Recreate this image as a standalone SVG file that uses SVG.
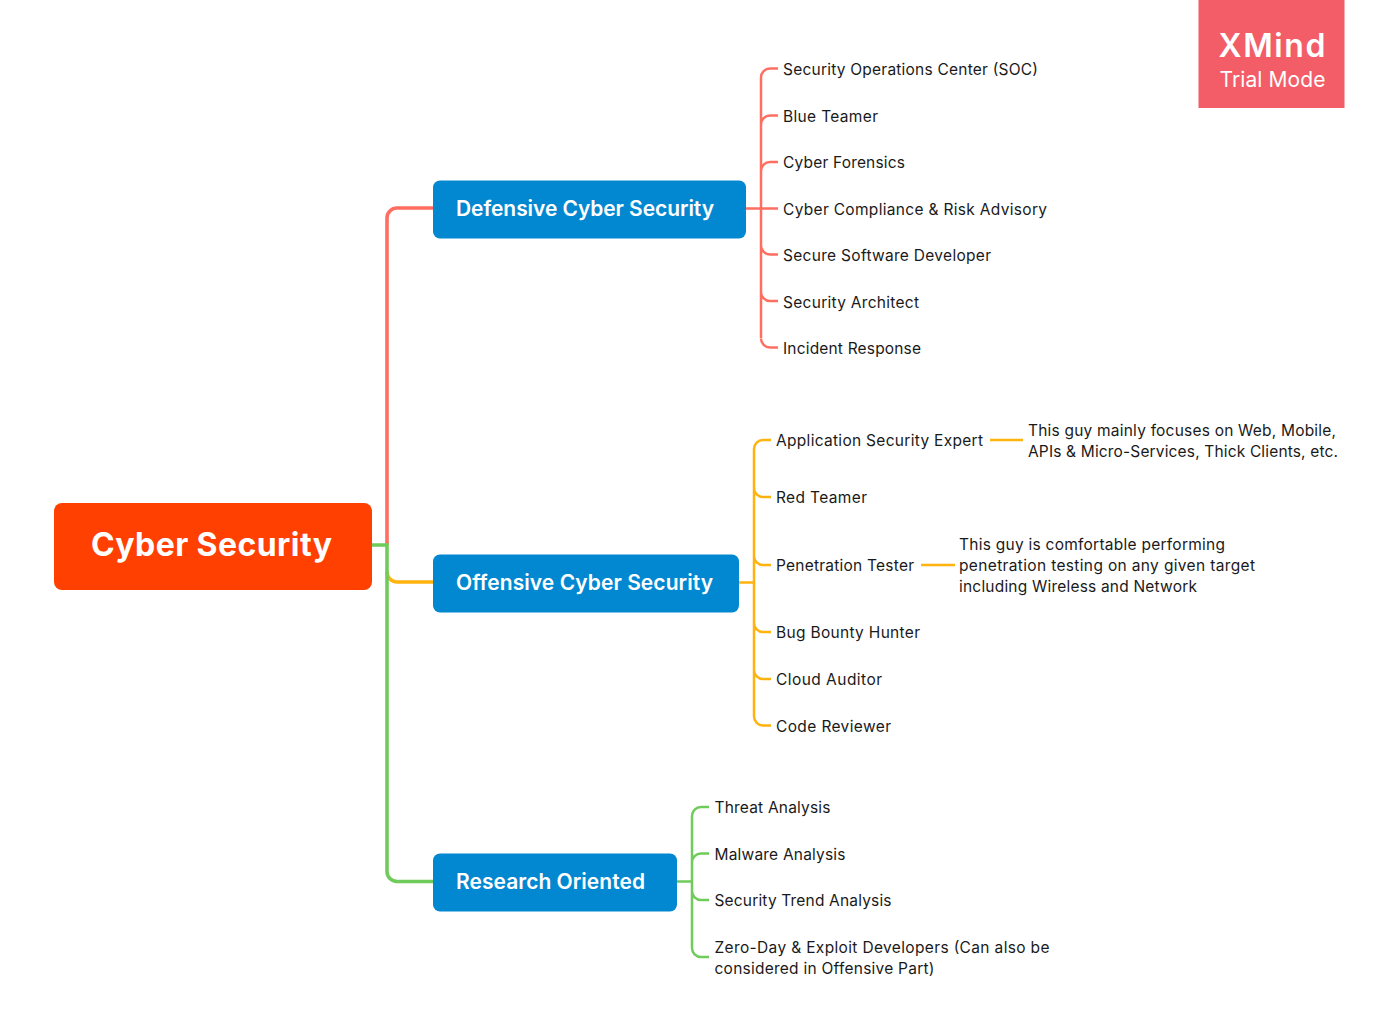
<svg xmlns="http://www.w3.org/2000/svg" width="1400" height="1036" viewBox="0 0 1400 1036">
<style>
text{font-family:Inter,"Open Sans","Liberation Sans",sans-serif}
.t{font-size:15.500px;fill:#1a1a1a}
.b{font-size:21px;font-weight:600;fill:#fff}
.box{fill:#0288d1}
.c{fill:none}
.r1{stroke:#ff6f61;stroke-width:3.600}
.o1{stroke:#ffb30f;stroke-width:3.600}
.g1{stroke:#6fcb5a;stroke-width:3.600}
.r2{stroke:#ff6f61;stroke-width:2.500}
.o2{stroke:#ffb30f;stroke-width:2.500}
.g2{stroke:#6fcb5a;stroke-width:2.500}
</style>
<rect width="1400" height="1036" fill="#fff"/>
<g id="connectors">
<path class="c r1" d="M387 545V218A10 10 0 0 1 397 208H433"/>
<path class="c o1" d="M387 572A10 10 0 0 0 397 582H433"/>
<path class="c g1" d="M372 545H387V871.500A10 10 0 0 0 397 881.500H433"/>
<path class="c r2" d="M746 208.500H778M761 338V77.500A9 9 0 0 1 770 68.500H778M761 124.500A9 9 0 0 1 770 115.500H778M761 171A9 9 0 0 1 770 162H778M761 245.500A9 9 0 0 0 770 254.500H778M761 292A9 9 0 0 0 770 301H778M761 338.500A9 9 0 0 0 770 347.500H778"/>
<path class="c o2" d="M739 582.500H754M754 449A9 9 0 0 1 763 440H771M754 488A9 9 0 0 0 763 497H771M754 556A9 9 0 0 0 763 565H771M754 623A9 9 0 0 0 763 632H771M754 670A9 9 0 0 0 763 679H771M754 449V716.500A9 9 0 0 0 763 725.500H771"/>
<path class="c o2" d="M990 440H1023M921 565H955"/>
<path class="c g2" d="M677 881.500H692M692 948V816A9 9 0 0 1 701 807H709M692 862.500A9 9 0 0 1 701 853.500H709M692 891A9 9 0 0 0 701 900H709M692 948A9 9 0 0 0 701 957H709"/>
</g>
<g id="root"><rect x="54" y="503" width="318" height="87" rx="8" fill="#ff4000"/><text x="91" y="556" font-size="32" font-weight="700" fill="#fff" textLength="241">Cyber Security</text></g>
<g id="watermark"><rect x="1198.500" y="-2" width="146" height="110" fill="#f25d67"/><text x="1218.500" y="57" font-size="32" font-weight="600" fill="#fff" textLength="107">XMind</text><text x="1219.500" y="87" font-size="21" fill="#fff" textLength="106">Trial Mode</text></g>
<g id="defensive"><rect class="box" x="433" y="180.500" width="313" height="58" rx="7"/><text class="b" x="456" y="216" textLength="258">Defensive Cyber Security</text></g>
<g id="offensive"><rect class="box" x="433" y="554.500" width="306" height="58" rx="7"/><text class="b" x="456" y="590" textLength="257">Offensive Cyber Security</text></g>
<g id="research"><rect class="box" x="433" y="853.500" width="244" height="58" rx="7"/><text class="b" x="456" y="889" textLength="189">Research Oriented</text></g>
<g id="d1"><text class="t" x="783" y="75" textLength="255">Security Operations Center (SOC)</text></g>
<g id="d2"><text class="t" x="783" y="121.500" textLength="95">Blue Teamer</text></g>
<g id="d3"><text class="t" x="783" y="168" textLength="122">Cyber Forensics</text></g>
<g id="d4"><text class="t" x="783" y="214.500" textLength="264">Cyber Compliance &amp; Risk Advisory</text></g>
<g id="d5"><text class="t" x="783" y="261" textLength="208">Secure Software Developer</text></g>
<g id="d6"><text class="t" x="783" y="307.500" textLength="136">Security Architect</text></g>
<g id="d7"><text class="t" x="783" y="354" textLength="138">Incident Response</text></g>
<g id="o1"><text class="t" x="776" y="446" textLength="207">Application Security Expert</text></g>
<g id="o1n"><text class="t" x="1028" y="436" textLength="308">This guy mainly focuses on Web, Mobile,</text><text class="t" x="1028" y="457" textLength="310">APIs &amp; Micro-Services, Thick Clients, etc.</text></g>
<g id="o2"><text class="t" x="776" y="503" textLength="91">Red Teamer</text></g>
<g id="o3"><text class="t" x="776" y="571" textLength="138">Penetration Tester</text></g>
<g id="o3n"><text class="t" x="959" y="550" textLength="266">This guy is comfortable performing</text><text class="t" x="959" y="571" textLength="296">penetration testing on any given target</text><text class="t" x="959" y="592" textLength="238">including Wireless and Network</text></g>
<g id="o4"><text class="t" x="776" y="638" textLength="144">Bug Bounty Hunter</text></g>
<g id="o5"><text class="t" x="776" y="685" textLength="106">Cloud Auditor</text></g>
<g id="o6"><text class="t" x="776" y="731.500" textLength="115">Code Reviewer</text></g>
<g id="r1"><text class="t" x="714.500" y="813" textLength="116">Threat Analysis</text></g>
<g id="r2"><text class="t" x="714.500" y="859.500" textLength="131">Malware Analysis</text></g>
<g id="r3"><text class="t" x="714.500" y="906" textLength="177">Security Trend Analysis</text></g>
<g id="r4"><text class="t" x="714.500" y="953" textLength="335">Zero-Day &amp; Exploit Developers (Can also be</text><text class="t" x="714.500" y="974" textLength="220">considered in Offensive Part)</text></g>
</svg>
